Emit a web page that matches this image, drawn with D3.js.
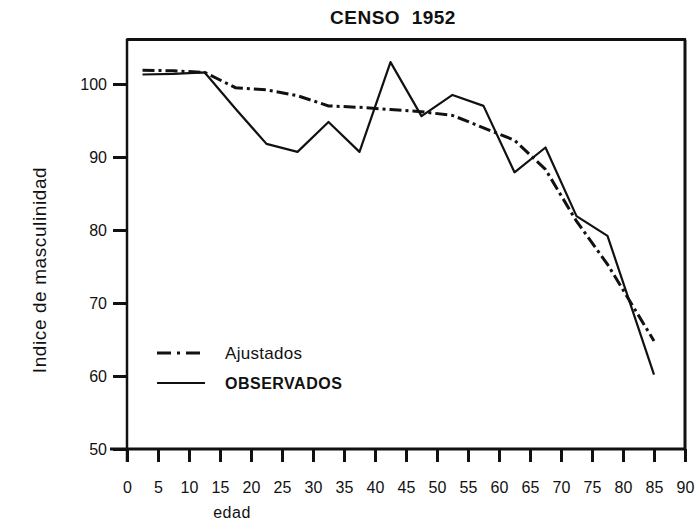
<!DOCTYPE html>
<html><head><meta charset="utf-8">
<script src="https://cdn.jsdelivr.net/npm/d3@7"></script>
<style>body{margin:0;background:#fff}svg{display:block}text{font-family:"Liberation Sans",Arial,sans-serif;fill:#111}</style>
</head><body>
<svg id="c" width="698" height="523"></svg>
<script>
const title = "CENSO  1952";
const xTicks = [0,5,10,15,20,25,30,35,40,45,50,55,60,65,70,75,80,85,90];
const yTicks = [50,60,70,80,90,100];
const ages = [2.5,7.5,12.5,17.5,22.5,27.5,32.5,37.5,42.5,47.5,52.5,57.5,62.5,67.5,72.5,77.5,85];
const observados = [101.3,101.4,101.6,96.6,91.8,90.7,94.8,90.7,103.0,95.6,98.5,97.0,87.9,91.3,81.9,79.2,60.2];
const ajustados  = [101.9,101.8,101.6,99.5,99.2,98.4,97.0,96.8,96.5,96.2,95.7,94.0,92.3,88.3,81.2,75.3,64.8];

const svg = d3.select("#c");
const x = d3.scaleLinear().domain([0,90]).range([127,685]);
const y = d3.scaleLinear().domain([50,100]).range([449,84]);
const FF = "Liberation Sans, Arial, sans-serif";

// frame top and right
svg.append("line").attr("x1",127).attr("x2",686).attr("y1",y(106.1)).attr("y2",y(106.1)).attr("stroke","#111").attr("stroke-width",3);
svg.append("line").attr("x1",x(90)).attr("x2",x(90)).attr("y1",y(106.1)).attr("y2",y(50)).attr("stroke","#111").attr("stroke-width",3);

// y axis
const ya = svg.append("g").attr("transform",`translate(${x(0)},0)`)
  .call(d3.axisLeft(y).tickValues(yTicks).tickSize(14).tickPadding(6).tickFormat(d3.format("d")));
ya.select(".domain").remove();
ya.append("line").attr("x1",0).attr("x2",0).attr("y1",y(106.1)-1).attr("y2",y(50)+13).attr("stroke","#111").attr("stroke-width",2.5);
ya.selectAll(".tick line").attr("stroke","#111").attr("stroke-width",3);
ya.selectAll(".tick text").attr("font-size",16).attr("fill","#111").style("font-family",FF);

// x axis
const xa = svg.append("g").attr("transform",`translate(0,${y(50)})`)
  .call(d3.axisBottom(x).tickValues(xTicks).tickSize(13).tickPadding(20).tickFormat(d3.format("d")));
xa.select(".domain").remove();
xa.append("line").attr("x1",x(0)-17).attr("x2",x(90)+1).attr("y1",0).attr("y2",0).attr("stroke","#111").attr("stroke-width",3);
xa.selectAll(".tick line").attr("stroke","#111").attr("stroke-width",3);
xa.selectAll(".tick text").attr("font-size",16).attr("fill","#111").style("font-family",FF);

// labels
svg.append("text").attr("x",393).attr("y",24).attr("text-anchor","middle").attr("font-size",19).attr("font-weight","bold").attr("letter-spacing",0.5).style("white-space","pre").text(title);
svg.append("text").attr("x",232).attr("y",518).attr("text-anchor","middle").attr("font-size",16).attr("letter-spacing",0.5).text("edad");
svg.append("text").attr("transform","translate(46,270) rotate(-90)").attr("text-anchor","middle").attr("font-size",19).attr("letter-spacing",0.6).text("Indice de masculinidad");

const line = d3.line().x((d,i)=>x(ages[i])).y(d=>y(d));
const dashPat = "12,4,3,4";
svg.append("path").datum(observados).attr("d",line).attr("fill","none").attr("stroke","#111").attr("stroke-width",2.2).attr("stroke-linejoin","round");
svg.append("path").datum(ajustados).attr("d",line).attr("fill","none").attr("stroke","#111").attr("stroke-width",3).attr("stroke-dasharray",dashPat);

// legend
svg.append("line").attr("x1",157).attr("x2",205).attr("y1",353).attr("y2",353).attr("stroke","#111").attr("stroke-width",3).attr("stroke-dasharray","14,6,3,6");
svg.append("text").attr("x",225).attr("y",359).attr("font-size",17).attr("letter-spacing",0.3).text("Ajustados");
svg.append("line").attr("x1",157).attr("x2",205).attr("y1",383).attr("y2",383).attr("stroke","#111").attr("stroke-width",2);
svg.append("text").attr("x",225).attr("y",389).attr("font-size",16).attr("font-weight","bold").attr("letter-spacing",0.5).text("OBSERVADOS");
</script>
</body></html>
